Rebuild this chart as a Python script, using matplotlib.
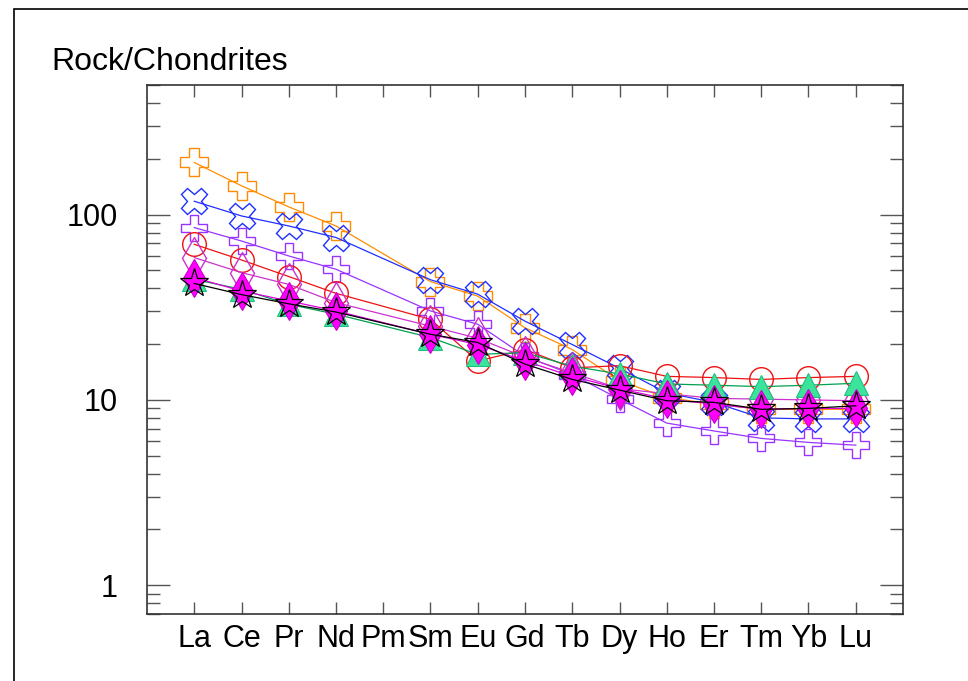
import numpy as np
import matplotlib
matplotlib.use("Agg")
import matplotlib.pyplot as plt
from matplotlib.markers import MarkerStyle
from matplotlib.transforms import Affine2D
from matplotlib.patches import Rectangle
from matplotlib.ticker import LogLocator, NullFormatter, FixedLocator

plt.rcParams['font.family'] = ['Liberation Sans', 'DejaVu Sans']

elements = ["La", "Ce", "Pr", "Nd", "Pm", "Sm", "Eu", "Gd", "Tb", "Dy", "Ho", "Er", "Tm", "Yb", "Lu"]
nan = np.nan

orange_vals  = [191, 143, 110, 86.8, nan, 43.5, 36.3, 24.5, 18.7, 12.7, 10.3, 9.5, 8.9, 8.9, 8.9]
blue_vals    = [118, 98.3, 86.8, 75.2, nan, 44.5, 37.2, 26.6, 19.9, 14.8, 10.9, 9.7, 8.0, 7.9, 7.9]
purple_vals  = [85.1, 72.0, 59.8, 50.7, nan, 30.2, 25.6, 17.2, 13.7, 10.1, 7.5, 6.8, 6.2, 5.9, 5.7]
red_vals     = [69.1, 56.9, 46.3, 37.6, nan, 27.2, 16.2, 18.7, 14.9, 15.3, 13.4, 13.2, 12.9, 13.2, 13.4]
magopen_vals = [58.6, 48.6, 42.0, 33.5, nan, 25.0, 21.5, 17.0, 14.0, 11.5, 10.8, 10.2, 10.1, 10.0, 9.9]
green_vals   = [44.7, 39.5, 32.8, 29.0, nan, 21.7, 17.6, 18.0, 15.2, 13.8, 12.2, 12.0, 11.8, 12.0, 12.3]
magfill_vals = [45.7, 38.7, 34.2, 30.2, nan, 22.6, 19.9, 16.2, 13.4, 11.5, 10.1, 9.5, 8.9, 9.0, 9.0]
black_vals   = [42.5, 37.0, 33.0, 29.8, nan, 22.6, 20.4, 15.6, 12.9, 11.3, 9.9, 9.7, 8.9, 9.0, 9.3]

x = np.arange(1, len(elements) + 1)

fig = plt.figure(figsize=(9.68, 6.81), dpi=100)
W, H = 968, 681
ax = fig.add_axes([147 / W, 1 - 614 / H, (903 - 147) / W, (614 - 85) / H])

orange_marker = MarkerStyle('X', transform=Affine2D().rotate_deg(45))

series = [
    (orange_vals, dict(color='#ff8c00', marker=orange_marker, ms=19, mfc='none', mec='#ff8c00', mew=1.0)),
    (blue_vals, dict(color='#1f2fff', marker='X', ms=19, mfc='none', mec='#1f2fff', mew=1.0)),
    (purple_vals, dict(color='#9933ff', marker='P', ms=19, mfc='none', mec='#9933ff', mew=1.0)),
    (red_vals, dict(color='#ee1111', marker='o', ms=17, mfc='none', mec='#ee1111', mew=1.0)),
    (magopen_vals, dict(color='#cc33cc', marker='d', ms=21, mfc='none', mec='#cc33cc', mew=1.0)),
    (green_vals, dict(color='#00a050', marker='^', ms=17, mfc='#3ce39a', mec='#20c080', mew=0.8)),
    (magfill_vals, dict(color='#dd00dd', marker='d', ms=19, mfc='#ff00ff', mec='#cc00cc', mew=0.8)),
    (black_vals, dict(color='black', marker='*', ms=21, mfc='none', mec='black', mew=0.9)),
]

for vals, kw in series:
    v = np.array(vals, dtype=float)
    m = ~np.isnan(v)
    ax.plot(x[m], v[m], lw=0.9, **kw)

ax.set_yscale('log')
ax.set_ylim(0.7, 500)
ax.set_xlim(0, 16)

ax.xaxis.set_major_locator(FixedLocator(x))
ax.set_xticklabels(elements)
ax.yaxis.set_major_locator(FixedLocator([1, 10, 100]))
ax.set_yticklabels(['1', '10', '100'])
ax.yaxis.set_minor_locator(LogLocator(base=10, subs=np.arange(2, 10), numticks=20))
ax.yaxis.set_minor_formatter(NullFormatter())

ax.tick_params(axis='y', which='major', direction='in', length=16.5, width=1.0,
               color='#555555', left=True, right=True, labelsize=22, pad=21)
ax.tick_params(axis='y', which='minor', direction='in', length=9.4, width=1.0,
               color='#555555', left=True, right=True)
ax.tick_params(axis='x', which='major', direction='in', length=8.6, width=1.0,
               color='#555555', top=True, bottom=True, labelsize=22, pad=7)
ax.tick_params(axis='x', which='minor', bottom=False, top=False)

for s in ax.spines.values():
    s.set_color('#333333')
    s.set_linewidth(1.2)

fig.text(51 / W, 1 - 69.5 / H, 'Rock/Chondrites', fontsize=23, va='baseline', ha='left')

frame = Rectangle((14 / W, -0.1), 1.2, 1 - 9 / H + 0.1, transform=fig.transFigure,
                  fill=False, edgecolor='black', linewidth=1.2, clip_on=False)
fig.patches.append(frame)

fig.savefig('out.png', dpi=100)
